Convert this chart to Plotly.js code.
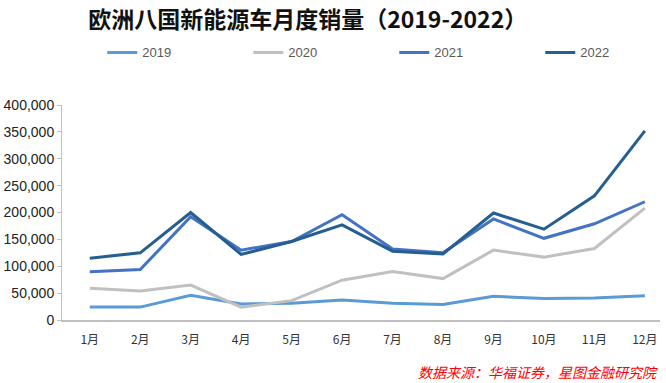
<!DOCTYPE html>
<html><head><meta charset="utf-8">
<script src="https://cdn.plot.ly/plotly-3.0.1.min.js"></script>
<style>html,body{margin:0;padding:0;background:#fff}#c{width:666px;height:383px}</style>
</head><body><div id="c"></div>
<script>
const months = ["1月","2月","3月","4月","5月","6月","7月","8月","9月","10月","11月","12月"];
const s2019 = [24000,24000,46000,30000,31000,37000,31000,29000,44000,40000,41000,45000];
const s2020 = [59000,54000,65000,24000,36000,74000,90000,77000,130000,117000,133000,208000];
const s2021 = [90000,94000,192000,130000,146000,196000,132000,125000,188000,152000,179000,220000];
const s2022 = [115000,125000,200000,122000,146000,177000,128000,123000,199000,169000,231000,352000];
const names = ["2019","2020","2021","2022"];
const colors = ["#5B9BD5","#C0C0C0","#4472C4","#255E91"];
const series = [s2019,s2020,s2021,s2022];
const traces = series.map((v,i)=>({x:months,y:v,name:names[i],type:"scatter",mode:"lines",
  line:{color:colors[i],width:3}}));
const layout = {
  width:666,height:383,
  margin:{l:62,r:6,t:105,b:63},
  paper_bgcolor:"#fff",plot_bgcolor:"#fff",
  title:{text:"<b>欧洲八国新能源车月度销量（2019-2022）</b>",x:0.462,xanchor:"center",y:0.948,yanchor:"middle",
    font:{family:"Noto Sans CJK SC",size:23,color:"#111"}},
  showlegend:true,
  legend:{orientation:"h",xref:"container",yref:"container",x:0.592,y:0.863,xanchor:"center",yanchor:"middle",
    entrywidth:101,entrywidthmode:"pixels",font:{family:"Liberation Sans, Arial",size:13,color:"#595959"},
    itemwidth:30,tracegroupgap:0},
  xaxis:{type:"category",range:[-0.55,11.3],showgrid:false,zeroline:false,showline:true,linecolor:"#BFBFBF",linewidth:1.5,
    ticks:"",ticklabelstandoff:8,tickfont:{family:"Noto Sans CJK SC",size:12,color:"#333"},fixedrange:true},
  yaxis:{range:[0,400000],dtick:50000,tickformat:",",showgrid:false,zeroline:false,showline:true,linecolor:"#BFBFBF",linewidth:1,
    ticks:"outside",ticklen:4,tickcolor:"#BFBFBF",tickfont:{family:"Liberation Sans, Arial",size:14,color:"#222"}},
  annotations:[{text:"<i>数据来源：华福证券，星图金融研究院</i>",xref:"paper",yref:"paper",x:1.0,y:-0.242,
    xanchor:"right",yanchor:"middle",showarrow:false,font:{family:"Noto Sans CJK SC",size:14,color:"#FF0000"}}]
};
Plotly.newPlot("c",traces,layout,{displayModeBar:false,staticPlot:true});
</script></body></html>
